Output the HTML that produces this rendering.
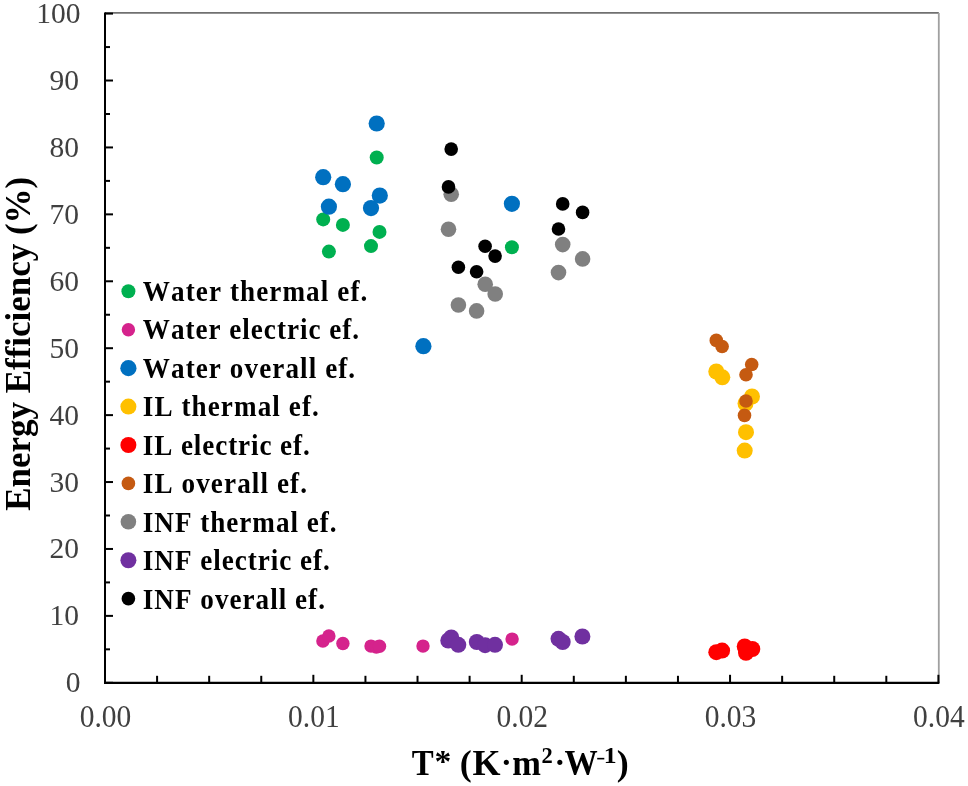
<!DOCTYPE html>
<html><head><meta charset="utf-8"><style>
html,body{margin:0;padding:0;background:#fff;width:968px;height:786px;overflow:hidden}
svg{display:block;filter:blur(0.55px)}
.tk{font-family:"Liberation Serif",serif;font-size:29.5px;fill:#404040}
.ttl{font-kerning:none;font-family:"Liberation Serif",serif;font-size:36px;font-weight:bold;fill:#000}
.lg{letter-spacing:1.25px;font-kerning:none;font-family:"Liberation Serif",serif;font-size:29.5px;font-weight:bold;fill:#000}
</style></head><body>
<svg width="968" height="786" viewBox="0 0 968 786">
<rect width="968" height="786" fill="#fff"/>
<line x1="105.0" y1="12.9" x2="938.8" y2="12.9" stroke="#707070" stroke-width="1.8"/>
<line x1="938.8" y1="12.9" x2="938.8" y2="682.8" stroke="#a0a0a0" stroke-width="1.8"/>
<line x1="105.0" y1="12.6" x2="105.0" y2="683.8" stroke="#000" stroke-width="2"/>
<line x1="105.0" y1="682.80" x2="113.0" y2="682.80" stroke="#000" stroke-width="2"/>
<line x1="105.0" y1="649.34" x2="110.0" y2="649.34" stroke="#000" stroke-width="2"/>
<line x1="105.0" y1="615.88" x2="113.0" y2="615.88" stroke="#000" stroke-width="2"/>
<line x1="105.0" y1="582.42" x2="110.0" y2="582.42" stroke="#000" stroke-width="2"/>
<line x1="105.0" y1="548.96" x2="113.0" y2="548.96" stroke="#000" stroke-width="2"/>
<line x1="105.0" y1="515.50" x2="110.0" y2="515.50" stroke="#000" stroke-width="2"/>
<line x1="105.0" y1="482.04" x2="113.0" y2="482.04" stroke="#000" stroke-width="2"/>
<line x1="105.0" y1="448.58" x2="110.0" y2="448.58" stroke="#000" stroke-width="2"/>
<line x1="105.0" y1="415.12" x2="113.0" y2="415.12" stroke="#000" stroke-width="2"/>
<line x1="105.0" y1="381.66" x2="110.0" y2="381.66" stroke="#000" stroke-width="2"/>
<line x1="105.0" y1="348.20" x2="113.0" y2="348.20" stroke="#000" stroke-width="2"/>
<line x1="105.0" y1="314.74" x2="110.0" y2="314.74" stroke="#000" stroke-width="2"/>
<line x1="105.0" y1="281.28" x2="113.0" y2="281.28" stroke="#000" stroke-width="2"/>
<line x1="105.0" y1="247.82" x2="110.0" y2="247.82" stroke="#000" stroke-width="2"/>
<line x1="105.0" y1="214.36" x2="113.0" y2="214.36" stroke="#000" stroke-width="2"/>
<line x1="105.0" y1="180.90" x2="110.0" y2="180.90" stroke="#000" stroke-width="2"/>
<line x1="105.0" y1="147.44" x2="113.0" y2="147.44" stroke="#000" stroke-width="2"/>
<line x1="105.0" y1="113.98" x2="110.0" y2="113.98" stroke="#000" stroke-width="2"/>
<line x1="105.0" y1="80.52" x2="113.0" y2="80.52" stroke="#000" stroke-width="2"/>
<line x1="105.0" y1="47.06" x2="110.0" y2="47.06" stroke="#000" stroke-width="2"/>
<line x1="105.0" y1="13.60" x2="113.0" y2="13.60" stroke="#000" stroke-width="2"/>
<line x1="104.0" y1="682.8" x2="939.4" y2="682.8" stroke="#000" stroke-width="2.2"/>
<line x1="105.00" y1="682.8" x2="105.00" y2="674.8" stroke="#000" stroke-width="2"/>
<line x1="157.09" y1="682.8" x2="157.09" y2="675.8" stroke="#000" stroke-width="2"/>
<line x1="209.18" y1="682.8" x2="209.18" y2="675.8" stroke="#000" stroke-width="2"/>
<line x1="261.26" y1="682.8" x2="261.26" y2="675.8" stroke="#000" stroke-width="2"/>
<line x1="313.35" y1="682.8" x2="313.35" y2="674.8" stroke="#000" stroke-width="2"/>
<line x1="365.44" y1="682.8" x2="365.44" y2="675.8" stroke="#000" stroke-width="2"/>
<line x1="417.52" y1="682.8" x2="417.52" y2="675.8" stroke="#000" stroke-width="2"/>
<line x1="469.61" y1="682.8" x2="469.61" y2="675.8" stroke="#000" stroke-width="2"/>
<line x1="521.70" y1="682.8" x2="521.70" y2="674.8" stroke="#000" stroke-width="2"/>
<line x1="573.79" y1="682.8" x2="573.79" y2="675.8" stroke="#000" stroke-width="2"/>
<line x1="625.88" y1="682.8" x2="625.88" y2="675.8" stroke="#000" stroke-width="2"/>
<line x1="677.96" y1="682.8" x2="677.96" y2="675.8" stroke="#000" stroke-width="2"/>
<line x1="730.05" y1="682.8" x2="730.05" y2="674.8" stroke="#000" stroke-width="2"/>
<line x1="782.14" y1="682.8" x2="782.14" y2="675.8" stroke="#000" stroke-width="2"/>
<line x1="834.23" y1="682.8" x2="834.23" y2="675.8" stroke="#000" stroke-width="2"/>
<line x1="886.31" y1="682.8" x2="886.31" y2="675.8" stroke="#000" stroke-width="2"/>
<line x1="938.40" y1="682.8" x2="938.40" y2="674.8" stroke="#000" stroke-width="2"/>
<text transform="translate(80.6,692.30) scale(1,1.03)" text-anchor="end" class="tk">0</text>
<text transform="translate(79.0,625.38) scale(1,1.03)" text-anchor="end" class="tk">10</text>
<text transform="translate(79.0,558.46) scale(1,1.03)" text-anchor="end" class="tk">20</text>
<text transform="translate(79.0,491.54) scale(1,1.03)" text-anchor="end" class="tk">30</text>
<text transform="translate(79.0,424.62) scale(1,1.03)" text-anchor="end" class="tk">40</text>
<text transform="translate(79.0,357.70) scale(1,1.03)" text-anchor="end" class="tk">50</text>
<text transform="translate(79.0,290.78) scale(1,1.03)" text-anchor="end" class="tk">60</text>
<text transform="translate(79.0,223.86) scale(1,1.03)" text-anchor="end" class="tk">70</text>
<text transform="translate(79.0,156.94) scale(1,1.03)" text-anchor="end" class="tk">80</text>
<text transform="translate(79.0,90.02) scale(1,1.03)" text-anchor="end" class="tk">90</text>
<text transform="translate(80.6,23.10) scale(1,1.03)" text-anchor="end" class="tk">100</text>
<text transform="translate(105.50,727.1) scale(1,1.05)" text-anchor="middle" class="tk">0.00</text>
<text transform="translate(313.85,727.1) scale(1,1.05)" text-anchor="middle" class="tk">0.01</text>
<text transform="translate(522.20,727.1) scale(1,1.05)" text-anchor="middle" class="tk">0.02</text>
<text transform="translate(730.55,727.1) scale(1,1.05)" text-anchor="middle" class="tk">0.03</text>
<text transform="translate(938.90,727.1) scale(1,1.05)" text-anchor="middle" class="tk">0.04</text>
<text transform="translate(411.79,774.5) scale(0.913,1)" class="ttl" style="font-size:36px">T</text>
<text transform="translate(434.50,772.0) scale(1.05,1)" class="ttl" style="font-size:32px">*</text>
<text transform="translate(459.80,774.5) scale(1.0,1)" class="ttl" style="font-size:36px">(</text>
<text transform="translate(472.60,774.5) scale(1.0,1)" class="ttl" style="font-size:36px">K</text>
<text transform="translate(501.00,772.7) scale(1.0,1)" class="ttl" style="font-size:32px">·</text>
<text transform="translate(512.24,774.5) scale(0.957,1)" class="ttl" style="font-size:36px">m</text>
<text transform="translate(541.60,762.7) scale(1.0,1)" class="ttl" style="font-size:22.5px">2</text>
<text transform="translate(554.60,772.7) scale(1.0,1)" class="ttl" style="font-size:32px">·</text>
<text transform="translate(564.58,774.5) scale(0.923,1)" class="ttl" style="font-size:36px">W</text>
<text transform="translate(603.86,763.3) scale(1.12,1)" class="ttl" style="font-size:23px">1</text>
<text transform="translate(616.80,774.5) scale(1.0,1)" class="ttl" style="font-size:36px">)</text>
<rect x="597.2" y="757.85" width="7.1" height="1.6" fill="#000"/>
<text transform="translate(30.3,343.8) rotate(-90) scale(0.971,1)" text-anchor="middle" class="ttl">Energy Efficiency (%)</text>
<circle cx="376.7" cy="157.5" r="7.0" fill="#00B050"/>
<circle cx="323.2" cy="219.4" r="7.0" fill="#00B050"/>
<circle cx="342.9" cy="224.9" r="7.0" fill="#00B050"/>
<circle cx="379.5" cy="231.9" r="7.0" fill="#00B050"/>
<circle cx="371" cy="246.1" r="7.0" fill="#00B050"/>
<circle cx="328.9" cy="251.6" r="7.0" fill="#00B050"/>
<circle cx="511.9" cy="247.3" r="7.0" fill="#00B050"/>
<circle cx="322.9" cy="641" r="6.7" fill="#D5238C"/>
<circle cx="328.9" cy="636" r="6.7" fill="#D5238C"/>
<circle cx="342.9" cy="643.5" r="6.7" fill="#D5238C"/>
<circle cx="371" cy="646.1" r="6.7" fill="#D5238C"/>
<circle cx="376.3" cy="647.1" r="6.7" fill="#D5238C"/>
<circle cx="379.5" cy="646.2" r="6.7" fill="#D5238C"/>
<circle cx="423" cy="646.1" r="6.7" fill="#D5238C"/>
<circle cx="512.1" cy="639.1" r="6.7" fill="#D5238C"/>
<circle cx="376.7" cy="123.5" r="8.1" fill="#0070C0"/>
<circle cx="323.2" cy="177.2" r="8.1" fill="#0070C0"/>
<circle cx="342.9" cy="184.2" r="8.1" fill="#0070C0"/>
<circle cx="379.8" cy="195.6" r="8.1" fill="#0070C0"/>
<circle cx="328.9" cy="206.7" r="8.1" fill="#0070C0"/>
<circle cx="371" cy="208.1" r="8.1" fill="#0070C0"/>
<circle cx="511.9" cy="203.8" r="8.1" fill="#0070C0"/>
<circle cx="423.4" cy="346.2" r="8.1" fill="#0070C0"/>
<circle cx="716.3" cy="371.5" r="8.0" fill="#FFC000"/>
<circle cx="722.3" cy="377.3" r="8.0" fill="#FFC000"/>
<circle cx="752" cy="396.5" r="8.0" fill="#FFC000"/>
<circle cx="745.5" cy="403.5" r="8.0" fill="#FFC000"/>
<circle cx="746" cy="432.2" r="8.0" fill="#FFC000"/>
<circle cx="744.7" cy="450.6" r="8.0" fill="#FFC000"/>
<circle cx="716.3" cy="652.2" r="8.0" fill="#FF0000"/>
<circle cx="722.1" cy="650.6" r="8.0" fill="#FF0000"/>
<circle cx="744.7" cy="646.4" r="8.0" fill="#FF0000"/>
<circle cx="746" cy="652.8" r="8.0" fill="#FF0000"/>
<circle cx="752.3" cy="649" r="8.0" fill="#FF0000"/>
<circle cx="746" cy="650" r="8.0" fill="#FF0000"/>
<circle cx="716.3" cy="340.4" r="6.8" fill="#C55A11"/>
<circle cx="722.1" cy="346.5" r="6.8" fill="#C55A11"/>
<circle cx="751.7" cy="364.5" r="6.8" fill="#C55A11"/>
<circle cx="746" cy="374.7" r="6.8" fill="#C55A11"/>
<circle cx="746" cy="401" r="6.8" fill="#C55A11"/>
<circle cx="744.5" cy="415.4" r="6.8" fill="#C55A11"/>
<circle cx="451.2" cy="194.2" r="7.8" fill="#808080"/>
<circle cx="448.5" cy="229.3" r="7.8" fill="#808080"/>
<circle cx="485.2" cy="284.3" r="7.8" fill="#808080"/>
<circle cx="495.2" cy="294" r="7.8" fill="#808080"/>
<circle cx="458.4" cy="305" r="7.8" fill="#808080"/>
<circle cx="476.6" cy="310.9" r="7.8" fill="#808080"/>
<circle cx="562.7" cy="244.6" r="7.8" fill="#808080"/>
<circle cx="582.6" cy="258.9" r="7.8" fill="#808080"/>
<circle cx="558.5" cy="272.6" r="7.8" fill="#808080"/>
<circle cx="448.3" cy="640.5" r="8.0" fill="#7030A0"/>
<circle cx="451.3" cy="637.5" r="8.0" fill="#7030A0"/>
<circle cx="458.3" cy="644.8" r="8.0" fill="#7030A0"/>
<circle cx="476.8" cy="642" r="8.0" fill="#7030A0"/>
<circle cx="485.1" cy="645.2" r="8.0" fill="#7030A0"/>
<circle cx="495" cy="644.8" r="8.0" fill="#7030A0"/>
<circle cx="558.5" cy="638.8" r="8.0" fill="#7030A0"/>
<circle cx="562.7" cy="642" r="8.0" fill="#7030A0"/>
<circle cx="582.4" cy="636.5" r="8.0" fill="#7030A0"/>
<circle cx="451.2" cy="149.1" r="6.8" fill="#000000"/>
<circle cx="448.5" cy="186.9" r="6.8" fill="#000000"/>
<circle cx="485.1" cy="246.3" r="6.8" fill="#000000"/>
<circle cx="495.1" cy="256.1" r="6.8" fill="#000000"/>
<circle cx="458.4" cy="267.3" r="6.8" fill="#000000"/>
<circle cx="476.6" cy="271.7" r="6.8" fill="#000000"/>
<circle cx="562.7" cy="203.9" r="6.8" fill="#000000"/>
<circle cx="582.6" cy="212.4" r="6.8" fill="#000000"/>
<circle cx="558.5" cy="229" r="6.8" fill="#000000"/>
<circle cx="128.4" cy="291.30" r="7.0" fill="#00B050"/>
<text transform="translate(142.8,300.60) scale(0.92,1)" textLength="245.28" lengthAdjust="spacing" class="lg">Water thermal ef.</text>
<circle cx="128.4" cy="329.72" r="6.7" fill="#D5238C"/>
<text transform="translate(142.8,339.14) scale(0.92,1)" textLength="236.33" lengthAdjust="spacing" class="lg">Water electric ef.</text>
<circle cx="128.4" cy="368.14" r="8.1" fill="#0070C0"/>
<text transform="translate(142.8,377.68) scale(0.92,1)" textLength="232.07" lengthAdjust="spacing" class="lg">Water overall ef.</text>
<circle cx="128.4" cy="406.56" r="8.0" fill="#FFC000"/>
<text transform="translate(142.8,416.22) scale(0.92,1)" textLength="192.57" lengthAdjust="spacing" class="lg">IL thermal ef.</text>
<circle cx="128.4" cy="444.98" r="8.0" fill="#FF0000"/>
<text transform="translate(142.8,454.76) scale(0.92,1)" textLength="182.74" lengthAdjust="spacing" class="lg">IL electric ef.</text>
<circle cx="128.4" cy="483.40" r="6.8" fill="#C55A11"/>
<text transform="translate(142.8,493.30) scale(0.92,1)" textLength="179.79" lengthAdjust="spacing" class="lg">IL overall ef.</text>
<circle cx="128.4" cy="521.82" r="7.8" fill="#808080"/>
<text transform="translate(142.8,531.84) scale(0.92,1)" textLength="211.93" lengthAdjust="spacing" class="lg">INF thermal ef.</text>
<circle cx="128.4" cy="560.24" r="8.0" fill="#7030A0"/>
<text transform="translate(142.8,570.38) scale(0.92,1)" textLength="204.59" lengthAdjust="spacing" class="lg">INF electric ef.</text>
<circle cx="128.4" cy="598.66" r="6.8" fill="#000000"/>
<text transform="translate(142.8,608.92) scale(0.92,1)" textLength="199.26" lengthAdjust="spacing" class="lg">INF overall ef.</text>
</svg>
</body></html>
